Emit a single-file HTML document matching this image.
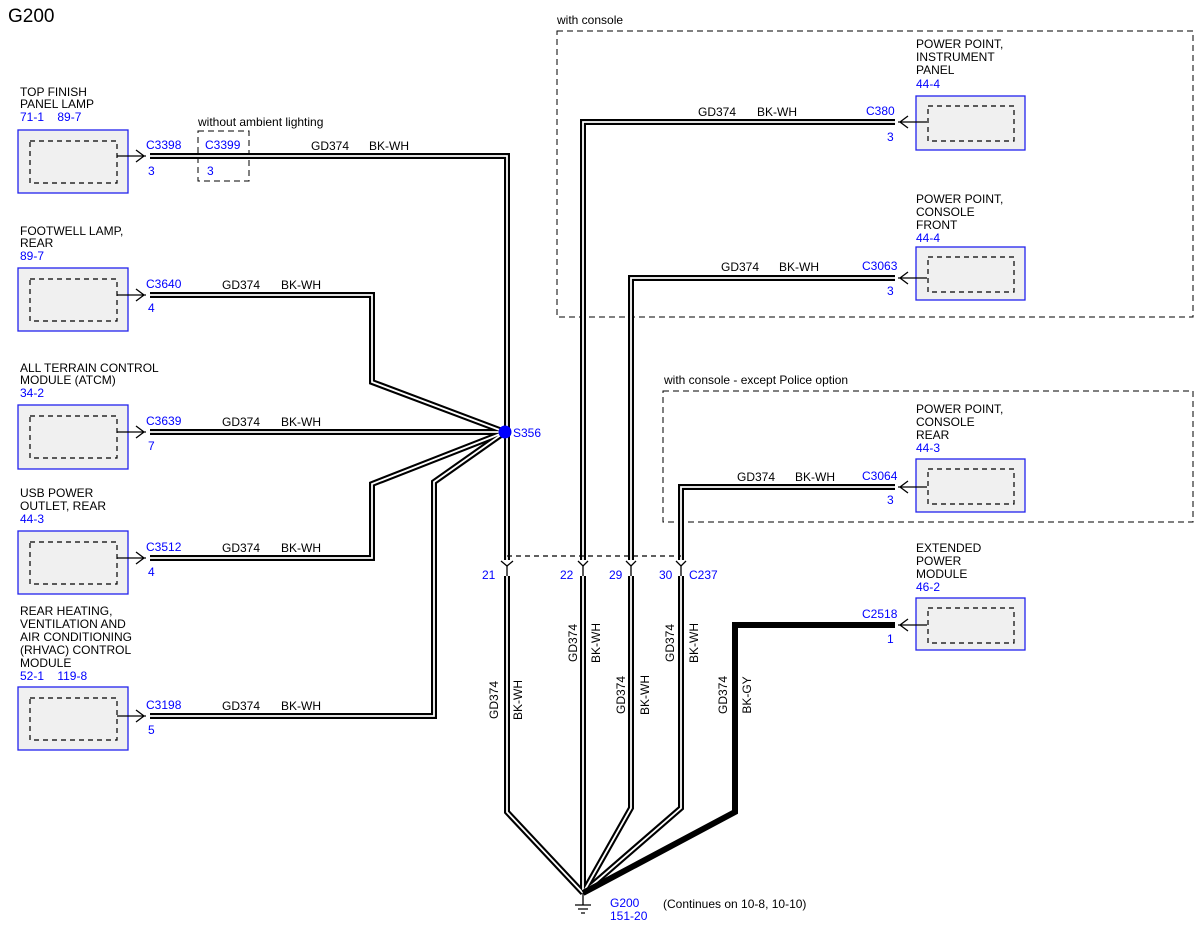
<!DOCTYPE html>
<html><head><meta charset="utf-8"><style>
body{margin:0;background:#fff}
svg{display:block;font-family:"Liberation Sans",sans-serif}
.t{font-size:12px;fill:#000}
.b{font-size:12px;fill:#0000ff}
.box{fill:#f0f0f0;stroke:#2222ee;stroke-width:1.3}
.in{fill:none;stroke:#000;stroke-width:1.2;stroke-dasharray:5,4}
.dr{fill:none;stroke:#000;stroke-width:1;stroke-dasharray:6,4}
</style></head><body>
<svg width="1200" height="927" viewBox="0 0 1200 927">
<text x="8" y="22" style="font-size:19px">G200</text>

<rect x="557" y="31" width="636" height="286" class="dr"/>
<text x="557" y="24" class="t">with console</text>
<rect x="663" y="391" width="530" height="131" class="dr"/>
<text x="664" y="384" class="t">with console - except Police option</text>
<rect x="198" y="131" width="51" height="50" class="dr"/>
<text x="198" y="126" class="t">without ambient lighting</text>

<g>
<rect x="18" y="130" width="110" height="63" class="box"/><rect x="30" y="141" width="87" height="42" class="in"/>
<rect x="18" y="268" width="110" height="63" class="box"/><rect x="30" y="279" width="87" height="42" class="in"/>
<rect x="18" y="405" width="110" height="64" class="box"/><rect x="30" y="416" width="87" height="42" class="in"/>
<rect x="18" y="531" width="110" height="63" class="box"/><rect x="30" y="542" width="87" height="42" class="in"/>
<rect x="18" y="687" width="110" height="63" class="box"/><rect x="30" y="698" width="87" height="42" class="in"/>
</g>
<text class="t"><tspan x="20" y="96">TOP FINISH</tspan><tspan x="20" y="108">PANEL LAMP</tspan></text>
<text x="20" y="121" class="b">71-1&#160;&#160;&#160;&#160;89-7</text>
<text class="t"><tspan x="20" y="235">FOOTWELL LAMP,</tspan><tspan x="20" y="247">REAR</tspan></text>
<text x="20" y="260" class="b">89-7</text>
<text class="t"><tspan x="20" y="372">ALL TERRAIN CONTROL</tspan><tspan x="20" y="384">MODULE (ATCM)</tspan></text>
<text x="20" y="397" class="b">34-2</text>
<text class="t"><tspan x="20" y="497">USB POWER</tspan><tspan x="20" y="510">OUTLET, REAR</tspan></text>
<text x="20" y="523" class="b">44-3</text>
<text class="t"><tspan x="20" y="615">REAR HEATING,</tspan><tspan x="20" y="628">VENTILATION AND</tspan><tspan x="20" y="641">AIR CONDITIONING</tspan><tspan x="20" y="654">(RHVAC) CONTROL</tspan><tspan x="20" y="667">MODULE</tspan></text>
<text x="20" y="680" class="b">52-1&#160;&#160;&#160;&#160;119-8</text>

<rect x="916" y="96" width="109" height="54" class="box"/><rect x="928" y="106" width="86" height="35" class="in"/>
<rect x="916" y="247" width="109" height="53" class="box"/><rect x="928" y="257" width="86" height="35" class="in"/>
<rect x="916" y="459" width="109" height="53" class="box"/><rect x="928" y="469" width="86" height="35" class="in"/>
<rect x="916" y="598" width="109" height="52" class="box"/><rect x="928" y="608" width="86" height="35" class="in"/>
<text class="t"><tspan x="916" y="48">POWER POINT,</tspan><tspan x="916" y="61">INSTRUMENT</tspan><tspan x="916" y="74">PANEL</tspan></text>
<text x="916" y="88" class="b">44-4</text>
<text class="t"><tspan x="916" y="203">POWER POINT,</tspan><tspan x="916" y="216">CONSOLE</tspan><tspan x="916" y="229">FRONT</tspan></text>
<text x="916" y="242" class="b">44-4</text>
<text class="t"><tspan x="916" y="413">POWER POINT,</tspan><tspan x="916" y="426">CONSOLE</tspan><tspan x="916" y="439">REAR</tspan></text>
<text x="916" y="452" class="b">44-3</text>
<text class="t"><tspan x="916" y="552">EXTENDED</tspan><tspan x="916" y="565">POWER</tspan><tspan x="916" y="578">MODULE</tspan></text>
<text x="916" y="591" class="b">46-2</text>

<defs>
<g id="w" fill="none">
<path d="M150 156H507V560 M507 576V812L583 893" />
<path d="M150 295H372V382L505 432" />
<path d="M150 432H505" />
<path d="M150 558H372V484L505 432" />
<path d="M150 716H434V482L505 432" />
<path d="M895 122H583V560 M583 576V893" />
<path d="M895 278H631V560 M631 576V808L583 893" />
<path d="M895 487H681V560 M681 576V808L583 893" />
</g>
</defs>
<use href="#w" stroke="#000" stroke-width="6" fill="none"/>
<use href="#w" stroke="#fff" stroke-width="1.8" fill="none"/>
<path d="M895 625H735V812L583 893" fill="none" stroke="#000" stroke-width="6"/>

<g stroke="#000" stroke-width="1.3" fill="none">
<path d="M117 156H146 M136 150L144 156L136 162"/>
<path d="M117 295H146 M136 289L144 295L136 301"/>
<path d="M117 432H146 M136 426L144 432L136 438"/>
<path d="M117 558H146 M136 552L144 558L136 564"/>
<path d="M117 716H146 M136 710L144 716L136 722"/>
<path d="M927 122H898 M908 116L900 122L908 128"/>
<path d="M927 278H898 M908 272L900 278L908 284"/>
<path d="M927 487H898 M908 481L900 487L908 493"/>
<path d="M927 625H898 M908 619L900 625L908 631"/>
<path d="M507 556H681" stroke-dasharray="5,4"/>
<path d="M501 561L507 566L513 561 M578 561L583 566L588 561 M626 561L631 566L636 561 M676 561L681 566L686 561"/>
<path d="M507 566V576 M583 566V576 M631 566V576 M681 566V576"/>
<path d="M583 893V905 M575 905H591 M578 909H588 M581 913H585"/>
</g>
<circle cx="505" cy="432" r="6.5" fill="#0000ff"/>

<g class="b">
<text x="146" y="149">C3398</text><text x="148" y="175">3</text>
<text x="205" y="149">C3399</text><text x="207" y="175">3</text>
<text x="146" y="288">C3640</text><text x="148" y="312">4</text>
<text x="146" y="425">C3639</text><text x="148" y="450">7</text>
<text x="146" y="551">C3512</text><text x="148" y="576">4</text>
<text x="146" y="709">C3198</text><text x="148" y="734">5</text>
<text x="513" y="437">S356</text>
<text x="866" y="115">C380</text><text x="887" y="141">3</text>
<text x="862" y="270">C3063</text><text x="887" y="295">3</text>
<text x="862" y="480">C3064</text><text x="887" y="504">3</text>
<text x="862" y="618">C2518</text><text x="887" y="643">1</text>
<text x="482" y="579">21</text><text x="560" y="579">22</text><text x="609" y="579">29</text><text x="659" y="579">30</text><text x="689" y="579">C237</text>
<text x="610" y="907">G200</text><text x="610" y="920">151-20</text>
</g>
<g class="t">
<text x="311" y="150">GD374</text><text x="369" y="150">BK-WH</text>
<text x="222" y="289">GD374</text><text x="281" y="289">BK-WH</text>
<text x="222" y="426">GD374</text><text x="281" y="426">BK-WH</text>
<text x="222" y="552">GD374</text><text x="281" y="552">BK-WH</text>
<text x="222" y="710">GD374</text><text x="281" y="710">BK-WH</text>
<text x="698" y="116">GD374</text><text x="757" y="116">BK-WH</text>
<text x="721" y="271">GD374</text><text x="779" y="271">BK-WH</text>
<text x="737" y="481">GD374</text><text x="795" y="481">BK-WH</text>
<text x="663" y="908">(Continues on 10-8, 10-10)</text>
<g text-anchor="middle">
<text transform="translate(498,700) rotate(-90)">GD374</text><text transform="translate(522,700) rotate(-90)">BK-WH</text>
<text transform="translate(577,643) rotate(-90)">GD374</text><text transform="translate(600,643) rotate(-90)">BK-WH</text>
<text transform="translate(625,695) rotate(-90)">GD374</text><text transform="translate(649,695) rotate(-90)">BK-WH</text>
<text transform="translate(674,643) rotate(-90)">GD374</text><text transform="translate(698,643) rotate(-90)">BK-WH</text>
<text transform="translate(727,695) rotate(-90)">GD374</text><text transform="translate(751,695) rotate(-90)">BK-GY</text>
</g>
</g>
</svg>
</body></html>
